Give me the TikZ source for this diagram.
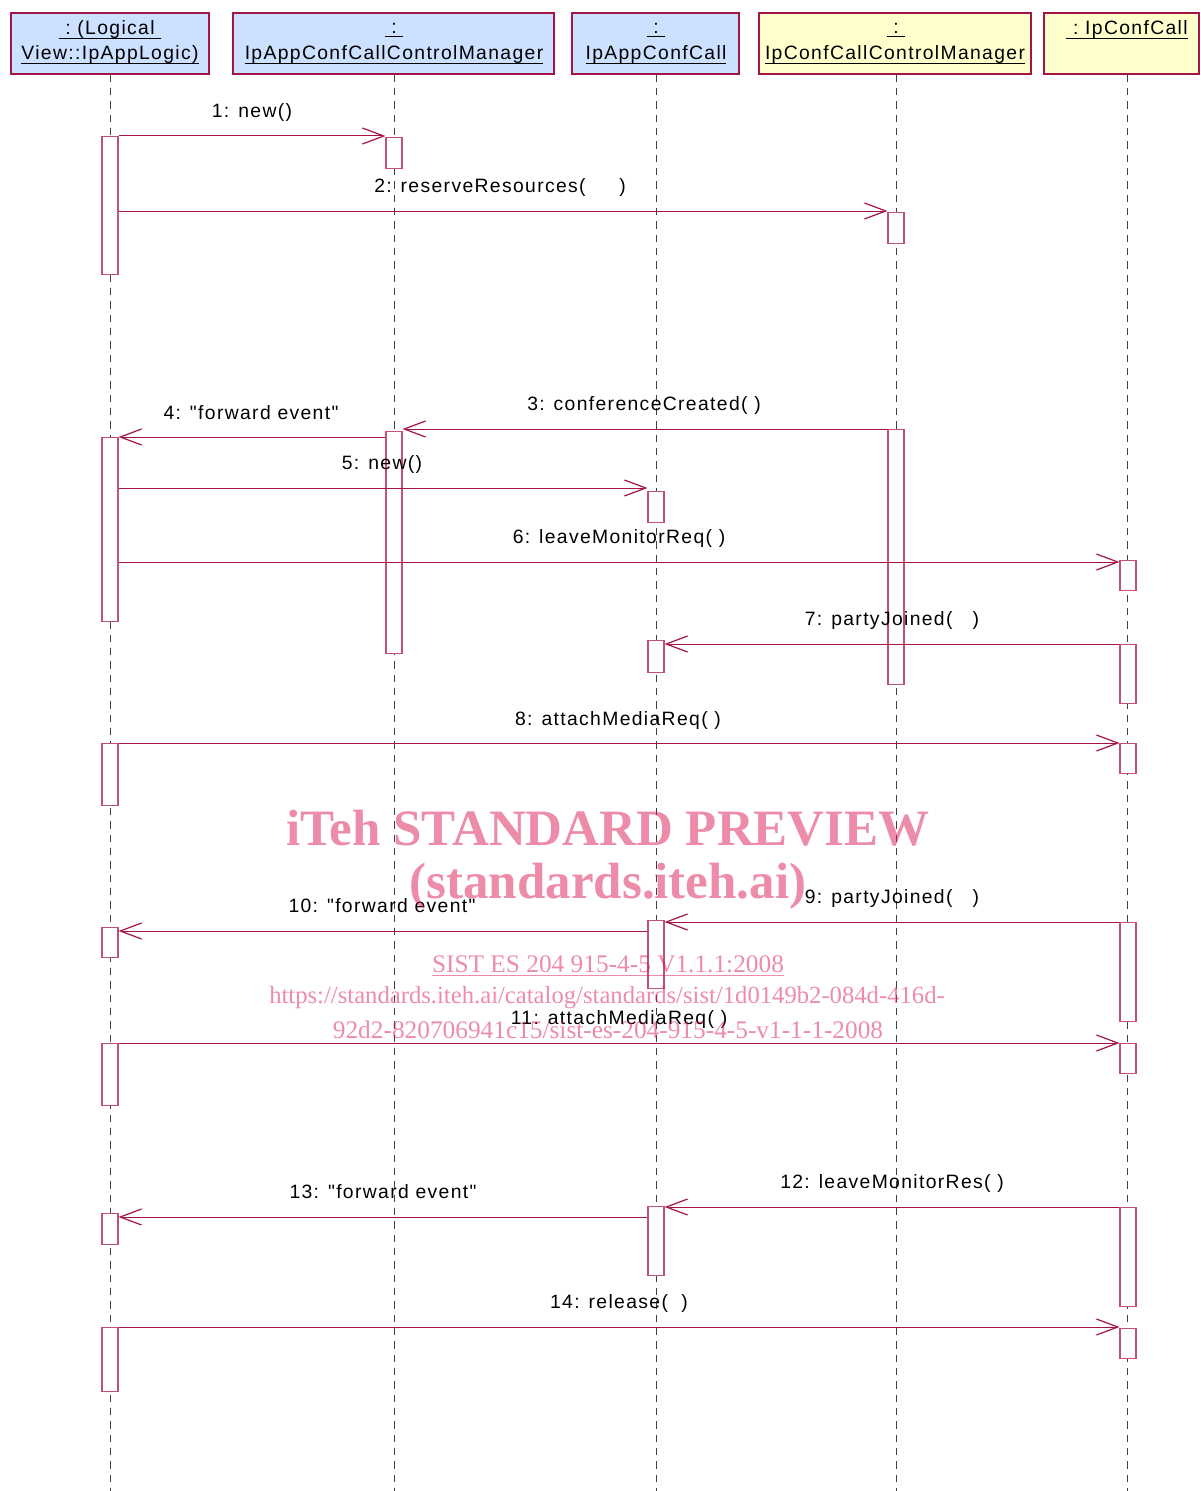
\documentclass[tikz,border=0pt]{standalone}
\usepackage{fontspec}
\setmainfont{Liberation Sans}[LetterSpace=7, Ligatures=TeXOff]
\newfontfamily\wmfont{Liberation Serif}
\usetikzlibrary{arrows.meta}
\definecolor{lc}{RGB}{165,20,70}
\definecolor{bc}{RGB}{195,80,120}
\definecolor{bluef}{RGB}{204,224,255}
\definecolor{yelf}{RGB}{255,255,204}
\definecolor{wm}{RGB}{219,25,81}
\newcommand\myul[1]{\setbox0\hbox{#1}\rlap{\rule[-3pt]{\wd0}{0.9pt}}\box0}
\newcommand\act[4]{\node[actbox, minimum height={(#4-#3)*0.75pt}] (#1) at (#2,#3) {};}
\newcommand\qq{\char34\relax}
\begin{document}
\begin{tikzpicture}[x=0.75pt, y=-0.75pt,
  font=\fontsize{14.5pt}{18.75pt}\selectfont,
  hdr/.style={draw=lc, line width=0.8pt, inner sep=0pt, minimum height=45.75pt},
  htext/.style={inner sep=0pt, align=center},
  actbox/.style={draw=bc, fill=white, line width=0.8pt, inner sep=0pt, minimum width=12pt, anchor=north},
  life/.style={draw=black!75, line width=0.6pt, dash pattern=on 5.5pt off 4.5pt},
  msg/.style={draw=lc, line width=0.75pt, -{Straight Barb[length=16pt,width=12pt,line width=0.9pt]}},
  lab/.style={inner sep=0pt, anchor=center},
  wmt/.style={text=wm, opacity=0.5, inner sep=0pt, anchor=center}]
\useasboundingbox (0,0) rectangle (1200,1491);
% header boxes
\node[hdr, fill=bluef, minimum width=148.5pt] (h1) at (110,43.5) {};
\node[hdr, fill=bluef, minimum width=240.75pt] (h2) at (393.5,43.5) {};
\node[hdr, fill=bluef, minimum width=125.25pt] (h3) at (655.5,43.5) {};
\node[hdr, fill=yelf, minimum width=204pt] (h4) at (895,43.5) {};
\node[hdr, fill=yelf, minimum width=116.25pt] (h5) at (1121.5,43.5) {};
\node[htext] (t1a) at (110,30) {\myul{\ :\ (Logical\ }};
\node[htext] (t1b) at (110,55) {\myul{View::IpAppLogic)}};
\node[htext] (t2a) at (394,30) {\myul{\ :\ }};
\node[htext] (t2b) at (394,55) {\myul{IpAppConfCallControlManager}};
\node[htext] (t3a) at (656,30) {\myul{\ :\ }};
\node[htext] (t3b) at (656,55) {\myul{IpAppConfCall}};
\node[htext] (t4a) at (896,30) {\myul{\ :\ }};
\node[htext] (t4b) at (895,55) {\myul{IpConfCallControlManager}};
\node[htext] (t5a) at (1127,30) {\myul{\ :\ IpConfCall}};
% lifelines
\draw[life] (h1.south) -- (h1.south |- 0,1491);
\draw[life] (t2a |- h2.south) -- (t2a |- 0,1491);
\draw[life] (t3a |- h3.south) -- (t3a |- 0,1491);
\draw[life] (t4a |- h4.south) -- (t4a |- 0,1491);
\draw[life] (t5a |- h5.south) -- (t5a |- 0,1491);
% activation boxes
\act{a1a}{110}{136}{274}
\act{a1b}{110}{437}{621}
\act{a1c}{110}{743}{805}
\act{a1d}{110}{927}{957}
\act{a1e}{110}{1043}{1105}
\act{a1f}{110}{1213}{1244}
\act{a1g}{110}{1327}{1391}
\act{a2a}{394}{137}{168}
\act{a2b}{394}{431}{653}
\act{a3a}{656}{491}{522}
\act{a3b}{656}{640}{672}
\act{a3c}{656}{920}{988}
\act{a3d}{656}{1206}{1275}
\act{a4a}{896}{212}{243}
\act{a4b}{896}{429}{684}
\act{a5a}{1128}{560}{590}
\act{a5b}{1128}{644}{703}
\act{a5c}{1128}{743}{773}
\act{a5d}{1128}{922}{1021}
\act{a5e}{1128}{1043}{1073}
\act{a5f}{1128}{1207}{1306}
\act{a5g}{1128}{1328}{1358}
% messages
\draw[msg] (a1a.east |- 0,136) -- (a2a.west |- 0,136);
\draw[msg] (a1a.east |- 0,211) -- (a4a.west |- 0,211);
\draw[msg] (a4b.west |- 0,429) -- (a2b.east |- 0,429);
\draw[msg] (a2b.west |- 0,437) -- (a1b.east |- 0,437);
\draw[msg] (a1b.east |- 0,488) -- (a3a.west |- 0,488);
\draw[msg] (a1b.east |- 0,562) -- (a5a.west |- 0,562);
\draw[msg] (a5b.west |- 0,644) -- (a3b.east |- 0,644);
\draw[msg] (a1c.east |- 0,743) -- (a5c.west |- 0,743);
\draw[msg] (a5d.west |- 0,922) -- (a3c.east |- 0,922);
\draw[msg] (a3c.west |- 0,931) -- (a1d.east |- 0,931);
\draw[msg] (a1e.east |- 0,1043) -- (a5e.west |- 0,1043);
\draw[msg] (a5f.west |- 0,1207) -- (a3d.east |- 0,1207);
\draw[msg] (a3d.west |- 0,1217) -- (a1f.east |- 0,1217);
\draw[msg] (a1g.east |- 0,1327) -- (a5g.west |- 0,1327);
% labels
\node[lab] (m1) at (252,112) {1: new()};
\node[lab] (m2) at (500,187) {2: reserveResources(\ \ \ \ \ )};
\node[lab] (m3) at (644,405) {3: conferenceCreated( )};
\node[lab] (m4) at (251,413) {4: \qq forward event\qq};
\node[lab] (m5) at (382,464) {5: new()};
\node[lab] (m6) at (619,538) {6: leaveMonitorReq( )};
\node[lab] (m7) at (892,620) {7: partyJoined(\ \ \ )};
\node[lab] (m8) at (618,720) {8: attachMediaReq( )};
\node[lab] (m9) at (892,898) {9: partyJoined(\ \ \ )};
\node[lab] (m10) at (382,906) {10: \qq forward event\qq};
\node[lab] (m11) at (619,1019) {11: attachMediaReq( )};
\node[lab] (m12) at (892,1183) {12: leaveMonitorRes( )};
\node[lab] (m13) at (383,1192) {13: \qq forward event\qq};
\node[lab] (m14) at (619,1303) {14: release(\ \ )};
% watermark
\node[wmt, font=\wmfont\bfseries\fontsize{38.25pt}{40pt}\selectfont] (w1) at (608,828) {iTeh STANDARD PREVIEW};
\node[wmt, font=\wmfont\bfseries\fontsize{38.25pt}{40pt}\selectfont] (w2) at (608,886) {(standards.iteh.ai)};
\node[wmt, font=\wmfont\fontsize{19pt}{20pt}\selectfont] (w3) at (608,966) {\myul{SIST ES 204 915-4-5 V1.1.1:2008}};
\node[wmt, font=\wmfont\fontsize{18.5pt}{20pt}\selectfont] (w4) at (607,998) {https://standards.iteh.ai/catalog/standards/sist/1d0149b2-084d-416d-};
\node[wmt, font=\wmfont\fontsize{19pt}{20pt}\selectfont] (w5) at (608,1030) {92d2-820706941c15/sist-es-204-915-4-5-v1-1-1-2008};
\end{tikzpicture}
\end{document}
